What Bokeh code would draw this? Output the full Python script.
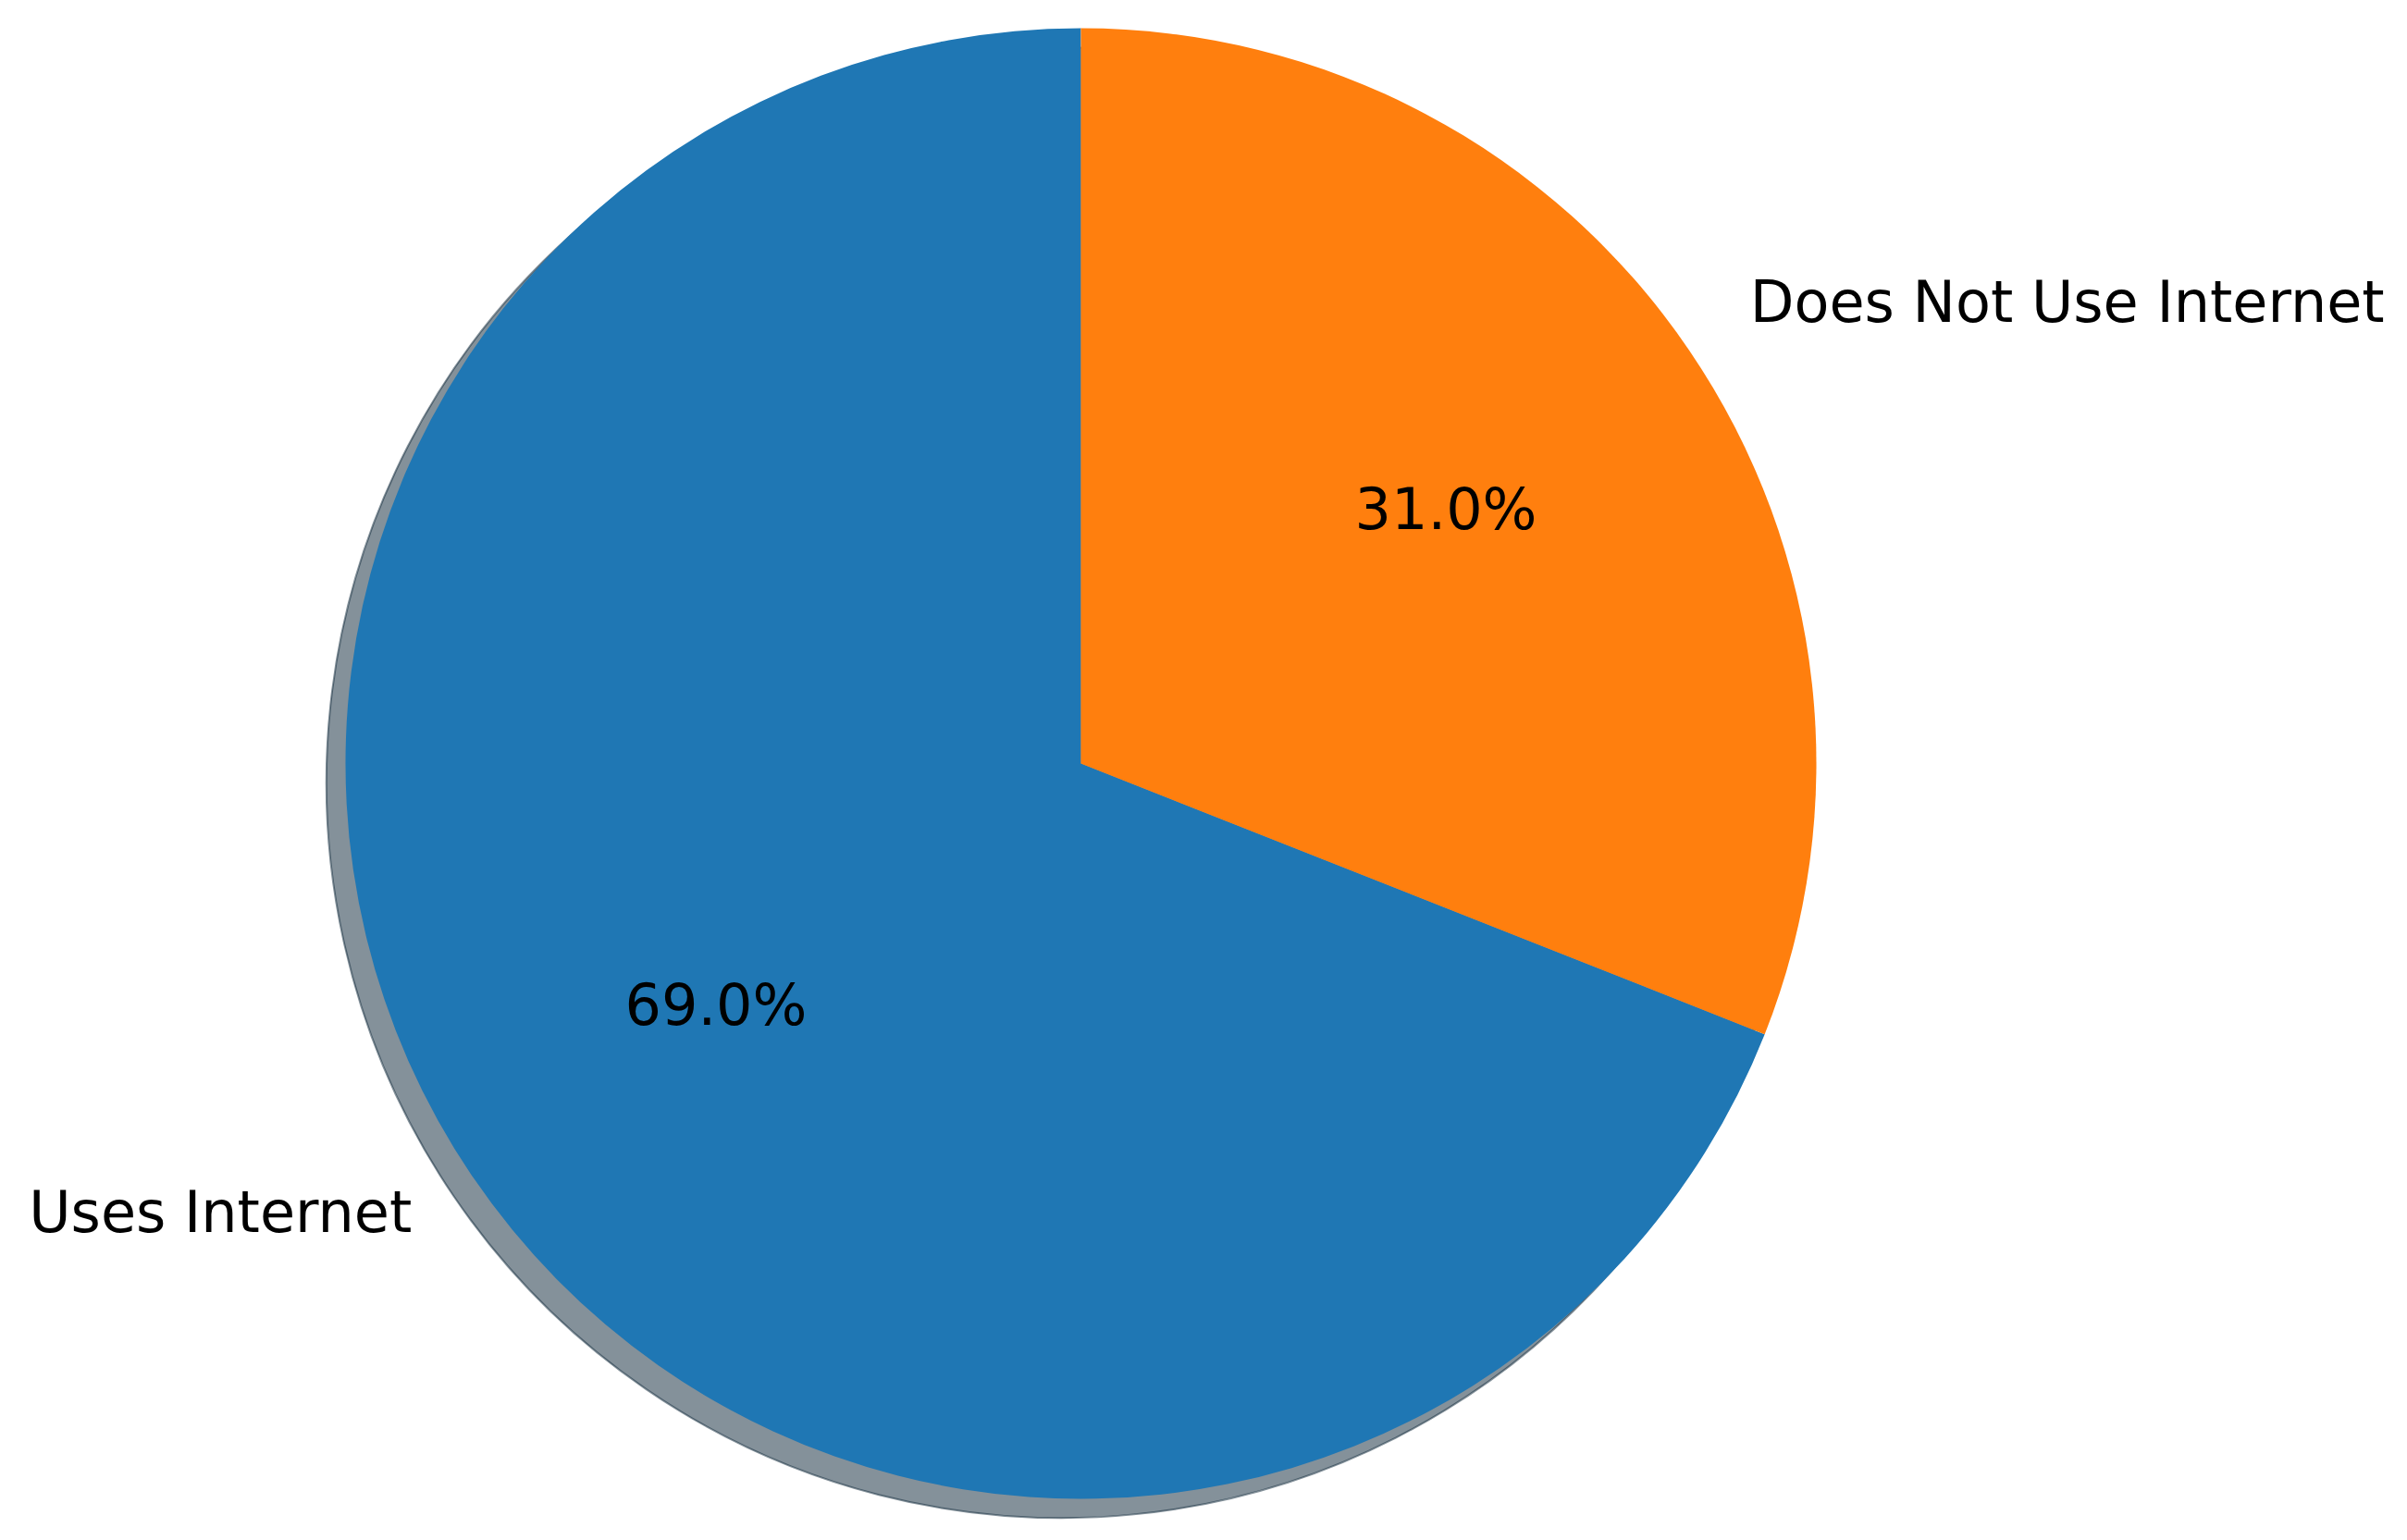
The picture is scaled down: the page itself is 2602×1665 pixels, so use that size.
import math
from bokeh.plotting import figure
from bokeh.models import ColumnDataSource, Range1d
from bokeh.core.properties import value
from bokeh.embed import file_html
from bokeh.resources import INLINE

labels = ["Uses Internet", "Does Not Use Internet"]
shares = [69.0, 31.0]
colors = ["#1f77b4", "#ff7f0e"]
shadow_colors = ["#092436", "#4c2604"]
pct_labels = ["69.0%", "31.0%"]

W, H = 2586, 1649
S = 795.0           # px per data unit (radius = 1)
CX, CY = 1168.0, 825.0  # px of pie centre from figure origin

p = figure(width=W, height=H, output_backend="svg", toolbar_location=None,
           x_range=Range1d(-CX / S, (W - CX) / S),
           y_range=Range1d(-(H - CY) / S, CY / S),
           min_border=0)
p.axis.visible = False
p.grid.visible = False
p.outline_line_color = None
p.background_fill_color = "white"
p.border_fill_color = "white"

total = sum(shares)
starts, ends, mids = [], [], []
a = math.pi / 2
for v in shares:
    span = 2 * math.pi * v / total
    starts.append(a)
    ends.append(a + span)
    mids.append(a + span / 2)
    a += span

src = ColumnDataSource(dict(start=starts, end=ends, color=colors, shadow=shadow_colors))

off = 0.026
p.wedge(x=-off, y=-off, radius=1.0, start_angle="start", end_angle="end",
        fill_color="shadow", fill_alpha=0.5, line_color="shadow", line_alpha=0.5,
        line_width=2, source=src)
p.wedge(x=0, y=0, radius=1.0, start_angle="start", end_angle="end",
        fill_color="color", line_color=None, source=src)

lx = [1.1 * math.cos(m) for m in mids]
ly = [1.1 * math.sin(m) for m in mids]
align = ["right" if x < 0 else "left" for x in lx]
px = [0.6 * math.cos(m) for m in mids]
py = [0.6 * math.sin(m) for m in mids]

lsrc = ColumnDataSource(dict(x=lx, y=ly, t=labels, a=align))
p.text(x="x", y="y", text="t", text_align="a", text_baseline="middle",
       text_font=value("DejaVu Sans"), text_font_size="62px", text_color="black",
       y_offset=-7, source=lsrc)
psrc = ColumnDataSource(dict(x=px, y=py, t=pct_labels))
p.text(x="x", y="y", text="t", text_align="center", text_baseline="middle",
       text_font=value("DejaVu Sans"), text_font_size="62px", text_color="black",
       y_offset=-7, source=psrc)

open("out.html", "w").write(file_html(p, INLINE))
